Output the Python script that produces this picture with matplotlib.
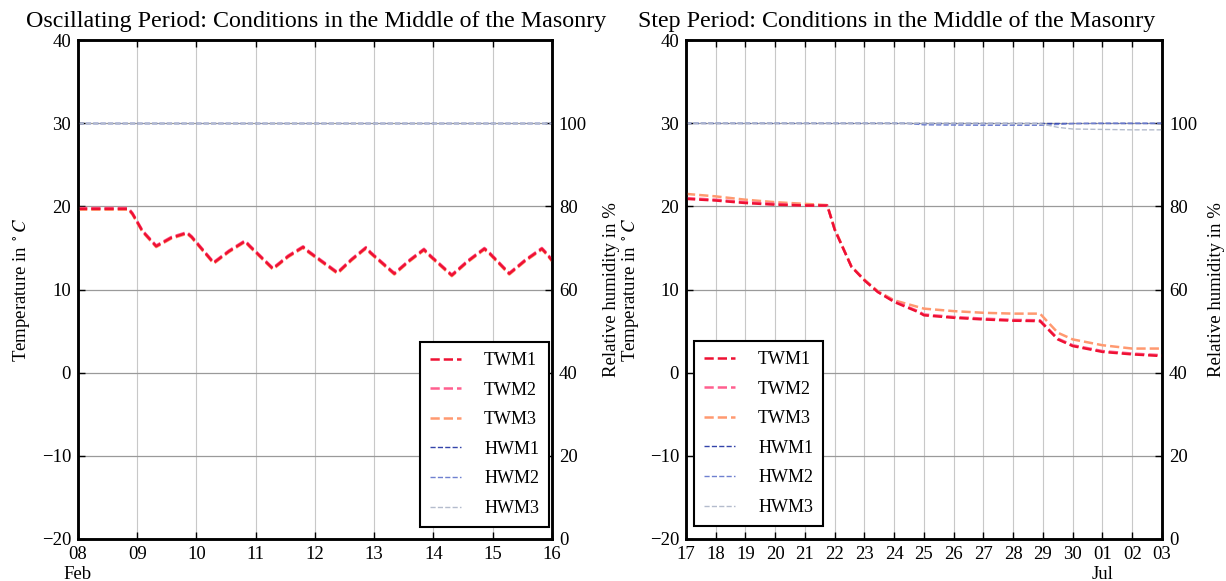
import numpy as np
import pandas as pd
import matplotlib
matplotlib.use('Agg')
import matplotlib.pyplot as plt

plt.rcParams['font.family'] = ['Liberation Serif', 'DejaVu Serif']
plt.rcParams['mathtext.fontset'] = 'stix'
plt.rcParams['font.size'] = 13.5

# --- Oscillating period (days after 2016-02-08) ---
osc_start = pd.Timestamp('2016-02-08')
osc_days = [0.0, 0.85, 0.92, 1.09, 1.32, 1.57, 1.84, 1.92, 2.29, 2.55, 2.82, 2.90, 3.29,
            3.55, 3.80, 3.88, 4.38, 4.62, 4.86, 4.94, 5.34, 5.60, 5.84, 5.92, 6.31,
            6.58, 6.86, 6.94, 7.28, 7.55, 7.83, 7.91, 8.0]
osc_twm1 = [19.7, 19.7, 19.1, 17.0, 15.2, 16.2, 16.8, 16.3, 13.2, 14.6, 15.8, 15.2, 12.5,
            14.0, 15.1, 14.6, 12.0, 13.6, 15.0, 14.4, 11.9, 13.5, 14.8, 14.2, 11.7,
            13.4, 14.9, 14.4, 11.9, 13.5, 14.9, 14.3, 13.5]
osc_twm2 = [19.8, 19.8, 19.2, 17.1, 15.3, 16.3, 16.9, 16.4, 13.3, 14.7, 15.9, 15.3, 12.6,
            14.1, 15.2, 14.7, 12.1, 13.7, 15.1, 14.5, 12.0, 13.6, 14.9, 14.3, 11.8,
            13.5, 15.0, 14.5, 12.0, 13.6, 15.0, 14.4, 13.6]
osc_twm3 = [19.6, 19.6, 19.0, 16.9, 15.1, 16.1, 16.7, 16.2, 13.1, 14.5, 15.7, 15.1, 12.4,
            13.9, 15.0, 14.5, 11.9, 13.5, 14.9, 14.3, 11.8, 13.4, 14.7, 14.1, 11.6,
            13.3, 14.8, 14.3, 11.8, 13.4, 14.8, 14.2, 13.4]
osc_h_days = [0.0, 2.0, 4.0, 6.0, 8.0]
osc_hwm1 = [100.0, 100.0, 100.0, 100.0, 100.0]
osc_hwm2 = [100.0, 100.0, 100.0, 100.0, 100.0]
osc_hwm3 = [100.0, 100.0, 100.0, 100.0, 100.0]

# --- Step period (days after 2016-06-17) ---
step_start = pd.Timestamp('2016-06-17')
step_days = [0.0, 1.0, 2.0, 3.0, 4.0, 4.75, 5.0, 5.56, 6.0, 6.45, 7.0, 7.8, 8.0,
             9.0, 10.0, 11.0, 11.9, 12.5, 13.0, 14.0, 15.0, 16.0]
step_twm1 = [20.9, 20.7, 20.4, 20.2, 20.1, 20.1, 17.2, 12.75, 11.1, 9.7, 8.5, 7.3, 6.9,
             6.6, 6.4, 6.25, 6.2, 4.0, 3.2, 2.5, 2.2, 2.0]
step_twm2 = [21.0, 20.8, 20.5, 20.3, 20.1, 20.1, 17.2, 12.75, 11.1, 9.7, 8.6, 7.4, 7.0,
             6.7, 6.5, 6.35, 6.3, 4.1, 3.3, 2.6, 2.3, 2.1]
step_twm3 = [21.5, 21.2, 20.8, 20.5, 20.3, 20.15, 17.3, 12.8, 11.2, 9.8, 8.7, 7.9, 7.7,
             7.4, 7.2, 7.1, 7.1, 4.8, 4.0, 3.3, 2.9, 2.9]
step_h_days = [0.0, 4.0, 7.4, 8.0, 10.0, 11.9, 12.5, 13.0, 14.0, 15.0, 16.0]
step_hwm1 = [100.0, 100.0, 100.0, 100.0, 100.0, 100.0, 100.0, 100.0, 100.0, 100.0, 100.0]
step_hwm2 = [100.0, 100.0, 100.0, 99.6, 99.5, 99.5, 99.7, 99.9, 100.0, 100.0, 100.0]
step_hwm3 = [100.0, 100.0, 100.0, 100.0, 100.0, 99.9, 99.0, 98.6, 98.5, 98.4, 98.4]

t_colors = ['#ee1133', '#ff5f8f', '#ff9970']
h_colors = ['#3344aa', '#6f80d0', '#b4bccc']
labels_t = ['TWM1', 'TWM2', 'TWM3']
labels_h = ['HWM1', 'HWM2', 'HWM3']


def to_dates(start, days):
    return start + pd.to_timedelta(days, unit='D')


def draw_panel(ax, start, n_days, t_days, temps, h_days, hums, month_idx, month_name,
               title_x, title, leg_anchor, leg_loc, lab_left, lab_right):
    ax2 = ax.twinx()
    handles = []
    # TWM1 drawn on top, like in the original figure
    for i, (ser, c, lab) in enumerate(zip(temps, t_colors, labels_t)):
        l, = ax.plot(to_dates(start, t_days), ser, '--', color=c, lw=1.8, label=lab,
                     zorder=5 - i)
        handles.append(l)
    for ser, c, lab in zip(hums, h_colors, labels_h):
        l, = ax2.plot(to_dates(start, h_days), ser, '--', color=c, lw=1.0, label=lab)
        handles.append(l)

    ax.set_ylim(-20, 40)
    ax.set_yticks(range(-20, 41, 10))
    ax2.set_ylim(0, 120)
    ax2.set_yticks(range(0, 101, 20))
    ticks = to_dates(start, np.arange(n_days + 1))
    ax.set_xlim(ticks[0], ticks[-1])
    ax.set_xticks(ticks)
    labs = [d.strftime('%d') for d in ticks]
    labs[month_idx] = labs[month_idx] + '\n' + month_name
    ax.set_xticklabels(labs)

    ax.grid(axis='x', color='#c8c8c8', lw=0.8)
    ax.grid(axis='y', color='#9a9a9a', lw=0.9)
    ax.set_axisbelow(True)
    for a in (ax, ax2):
        a.tick_params(direction='in', length=5, width=1, pad=5)
        for s in a.spines.values():
            s.set_linewidth(1.8)
    ax.tick_params(top=True)

    ax.set_ylabel('Temperature in $^\\circ C$')
    ax2.set_ylabel('Relative humidity in %')
    ax.yaxis.set_label_coords(lab_left, 0.5)
    ax2.yaxis.set_label_coords(lab_right, 0.5)

    leg = ax2.legend(handles=handles, loc=leg_loc, bbox_to_anchor=leg_anchor,
                     borderaxespad=0, fancybox=False, framealpha=1, edgecolor='black',
                     fontsize=13, handlelength=1.7, handletextpad=1.3,
                     labelspacing=0.7, borderpad=0.55)
    leg.get_frame().set_linewidth(1.5)
    fig.text(title_x, 0.963, title, ha='center', va='center', fontsize=17.3)


fig = plt.figure(figsize=(12.26, 5.81), dpi=100)
ax_l = fig.add_axes([0.0636, 0.0723, 0.3866, 0.8588])
ax_r = fig.add_axes([0.5595, 0.0723, 0.3883, 0.8588])

draw_panel(ax_l, osc_start, 8, osc_days, [osc_twm1, osc_twm2, osc_twm3],
           osc_h_days, [osc_hwm1, osc_hwm2, osc_hwm3], 0, 'Feb',
           316 / 1226, 'Oscillating Period: Conditions in the Middle of the Masonry',
           (0.994, 0.024), 'lower right', -0.098, 1.108)
draw_panel(ax_r, step_start, 16, step_days, [step_twm1, step_twm2, step_twm3],
           step_h_days, [step_hwm1, step_hwm2, step_hwm3], 14, 'Jul',
           897 / 1226, 'Step Period: Conditions in the Middle of the Masonry',
           (0.017, 0.026), 'lower left', -0.094, 1.097)

fig.savefig('out.png', dpi=100)
